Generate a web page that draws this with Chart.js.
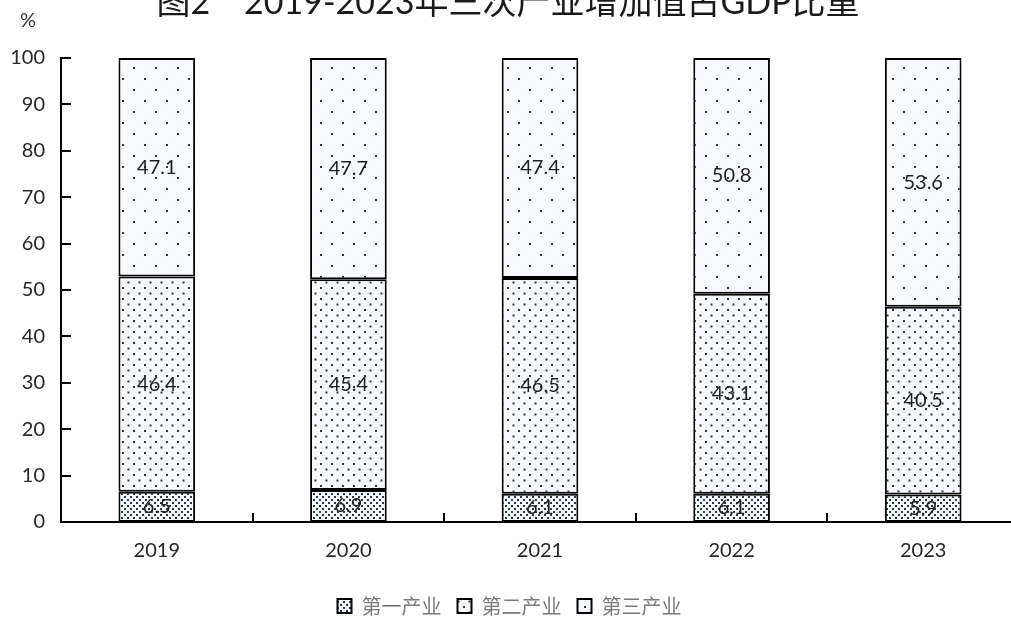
<!DOCTYPE html>
<html lang="zh">
<head>
<meta charset="utf-8">
<title>三次产业增加值占GDP比重</title>
<script src="https://cdn.jsdelivr.net/npm/chart.js@4/dist/chart.umd.min.js"></script>
<style>
  html, body { margin: 0; padding: 0; background: #fff; overflow: hidden; }
  #wrap { width: 1020px; height: 626px; }
</style>
</head>
<body>
<div id="wrap"><canvas id="chart" width="1020" height="626"></canvas></div>
<script>
// data
const years = ['2019', '2020', '2021', '2022', '2023'];
const primary = [6.5, 6.9, 6.1, 6.1, 5.9];
const secondary = [46.4, 45.4, 46.5, 43.1, 40.5];
const tertiary = [47.1, 47.7, 47.4, 50.8, 53.6];
const seriesNames = ['第一产业', '第二产业', '第三产业'];
const yTicks = [0, 10, 20, 30, 40, 50, 60, 70, 80, 90, 100];

const titleText = '图2　2019-2023年三次产业增加值占GDP比重';
const numFont = 'Lato, "Open Sans", sans-serif';
const cjkFont = '"Noto Sans CJK SC", sans-serif';

/**
 * Dotted fill like the printed chart; step is the dot spacing
 */
function dotPattern(step) {
  const c = document.createElement('canvas');
  c.width = step * 2;
  c.height = step * 2;
  const g = c.getContext('2d');
  g.fillStyle = '#f7f9fd';
  g.fillRect(0, 0, c.width, c.height);
  g.fillStyle = '#dfe7f3';
  g.fillRect(step * 1.5, step * 0.5, 1, 1);
  g.fillRect(step * 0.5, step * 1.5, 1, 1);
  g.fillStyle = '#2c3644';
  g.fillRect(1, 1, 2, 2);
  g.fillRect(step + 1, step + 1, 2, 2);
  return g.createPattern(c, 'repeat');
}

// title and % unit, drawn on top of the canvas
const titlePlugin = {
  id: 'titleText',
  afterDraw(chart) {
    const ctx = chart.ctx;
    ctx.save();
    ctx.fillStyle = '#1a1a1a';
    ctx.font = '34px ' + numFont.replace('sans-serif', cjkFont);
    ctx.textAlign = 'center';
    ctx.textBaseline = 'alphabetic';
    ctx.fillText(titleText, 508, 14);
    ctx.font = '20px ' + numFont;
    ctx.fillStyle = '#333';
    ctx.fillText('%', 28, 27);
    ctx.restore();
  }
};

// ticks pointing into the plot area
const innerTicks = {
  id: 'innerTicks',
  afterDatasetsDraw(chart) {
    const ctx = chart.ctx;
    const x = chart.scales.x;
    const y = chart.scales.y;
    const area = chart.chartArea;
    ctx.save();
    ctx.strokeStyle = '#000';
    ctx.lineWidth = 2;
    ctx.beginPath();
    yTicks.forEach(v => {
      const py = Math.round(y.getPixelForValue(v));
      ctx.moveTo(area.left, py);
      ctx.lineTo(area.left + 10, py);
    });
    for (let i = 1; i < years.length; i++) {
      const px = Math.round((x.getPixelForValue(i - 1) + x.getPixelForValue(i)) / 2);
      ctx.moveTo(px, area.bottom);
      ctx.lineTo(px, area.bottom - 9);
    }
    ctx.stroke();
    ctx.restore();
  }
};

// value labels in the middle of each segment
const segmentLabels = {
  id: 'segmentLabels',
  afterDatasetsDraw(chart) {
    const ctx = chart.ctx;
    ctx.save();
    ctx.font = '20px ' + numFont;
    ctx.fillStyle = '#1f1f1f';
    ctx.textAlign = 'center';
    ctx.textBaseline = 'middle';
    chart.data.datasets.forEach((ds, di) => {
      chart.getDatasetMeta(di).data.forEach((bar, i) => {
        ctx.fillText(ds.data[i].toFixed(1), bar.x, (bar.y + bar.base) / 2);
      });
    });
    ctx.restore();
  }
};

const fills = [dotPattern(3), dotPattern(5.5), dotPattern(11)];
const values = [primary, secondary, tertiary];

const ctx = document.getElementById('chart').getContext('2d');
new Chart(ctx, {
  type: 'bar',
  data: {
    labels: years,
    datasets: values.map((v, i) => ({
      label: seriesNames[i],
      data: v,
      backgroundColor: fills[i],
      borderColor: '#000',
      borderWidth: 2,
      borderSkipped: false,
      barPercentage: 0.4,
      categoryPercentage: 1
    }))
  },
  options: {
    responsive: false,
    animation: false,
    devicePixelRatio: 1,
    layout: {
      padding: { top: 58, left: 0, right: 1, bottom: 0 }
    },
    plugins: {
      tooltip: { enabled: false },
      legend: {
        display: true,
        position: 'bottom',
        labels: {
          color: '#7a7a7a',
          font: { family: cjkFont, size: 20 },
          boxWidth: 14,
          boxHeight: 14,
          padding: 16
        }
      }
    },
    scales: {
      x: {
        stacked: true,
        grid: { display: false, drawTicks: false },
        border: { color: '#000', width: 2 },
        ticks: {
          color: '#262626',
          font: { family: numFont, size: 20 },
          padding: 17
        },
        afterFit(scale) { scale.height = 58; }
      },
      y: {
        stacked: true,
        min: 0,
        max: 100,
        grid: { display: false, drawTicks: false },
        border: { color: '#000', width: 2 },
        ticks: {
          stepSize: 10,
          color: '#262626',
          font: { family: numFont, size: 20 },
          padding: 16
        },
        afterFit(scale) { scale.width = 61; }
      }
    }
  },
  plugins: [titlePlugin, innerTicks, segmentLabels]
});
</script>
</body>
</html>
